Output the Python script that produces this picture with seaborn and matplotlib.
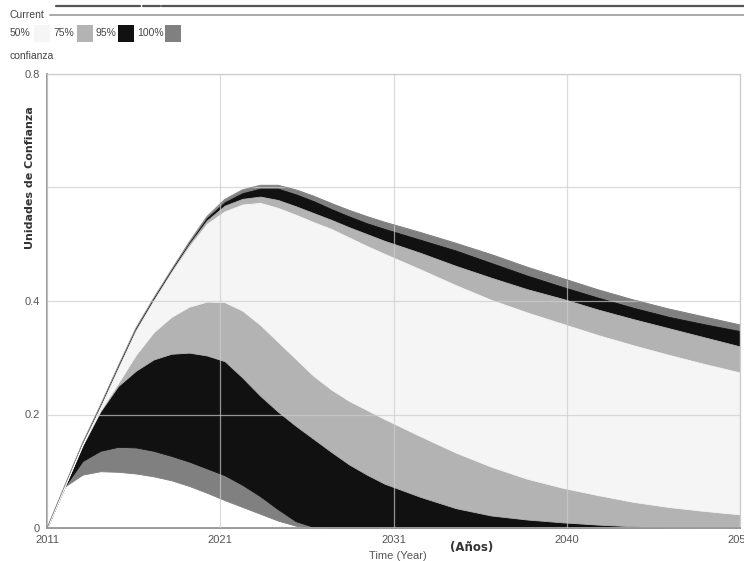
import numpy as np
import pandas as pd
import seaborn as sns
import matplotlib.pyplot as plt
from matplotlib.patches import Rectangle
from matplotlib.lines import Line2D

# datos (sensibilidad de Vensim)
years = [2011, 2012, 2013, 2014, 2015, 2016, 2017, 2018, 2019, 2020,
         2021, 2022, 2023, 2024, 2025, 2026, 2027, 2028, 2029, 2030,
         2032, 2034, 2036, 2038, 2040, 2042, 2044, 2046, 2048, 2050]

low_100 = [0, .073, .094, .100, .099, .096, .091, .084, .074, .062,
           .049, .037, .025, .013, .004, 0, 0, 0, 0, 0,
           0, 0, 0, 0, 0, 0, 0, 0, 0, 0]
low_95 = [0, .073, .118, .136, .143, .142, .136, .127, .117, .105,
          .093, .076, .056, .033, .012, .002, 0, 0, 0, 0,
          0, 0, 0, 0, 0, 0, 0, 0, 0, 0]
low_75 = [0, .073, .145, .205, .250, .277, .297, .307, .309, .304,
          .294, .265, .233, .205, .180, .157, .134, .112, .094, .078,
          .055, .035, .022, .015, .010, .006, .003, .001, 0, 0]
low_50 = [0, .074, .147, .207, .255, .305, .345, .372, .390, .399,
          .398, .383, .358, .328, .298, .268, .244, .224, .208, .192,
          .162, .133, .108, .087, .071, .058, .046, .037, .030, .024]
up_50 = [0, .074, .147, .212, .280, .347, .400, .450, .496, .536,
         .558, .570, .573, .564, .552, .539, .527, .512, .497, .483,
         .456, .428, .402, .380, .360, .340, .322, .305, .289, .274]
up_75 = [0, .074, .148, .213, .282, .349, .402, .452, .500, .542,
         .568, .580, .584, .578, .567, .555, .543, .530, .518, .506,
         .485, .462, .441, .421, .404, .385, .368, .352, .336, .320]
up_95 = [0, .075, .149, .215, .284, .351, .404, .454, .502, .546,
         .574, .590, .598, .598, .588, .576, .562, .549, .537, .527,
         .508, .489, .467, .445, .425, .406, .388, .372, .359, .347]
up_100 = [0, .075, .150, .216, .285, .352, .405, .455, .504, .549,
          .579, .596, .604, .604, .596, .585, .572, .560, .549, .539,
          .521, .502, .482, .460, .440, .420, .402, .386, .372, .358]

levels = ["50%", "75%", "95%", "100%"]
colors = {"50%": "#f5f5f5", "75%": "#b3b3b3", "95%": "#111111", "100%": "#808080"}
bands = {"100%": (low_100, up_100), "95%": (low_95, up_95),
         "75%": (low_75, up_75), "50%": (low_50, up_50)}

x_ticks = [2011, 2020.75, 2030.5, 2040.25, 2050]
x_labels = ["2011", "2021", "2031", "2040", "2050"]
y_ticks = [0, 0.2, 0.4, 0.6, 0.8]
y_labels = ["0", "0.2", "0.4", "", "0.8"]

sns.set_style("white")
plt.rcParams["font.family"] = ["DejaVu Sans"]
small = ["Liberation Sans Narrow", "Liberation Sans", "DejaVu Sans"]

df = pd.DataFrame({"year": years, "top": up_100})

fig = plt.figure(figsize=(7.44, 5.61), dpi=100)
ax = fig.add_axes([47 / 744, 33 / 561, 693 / 744, 454 / 561])

# bandas de confianza, de la mas ancha a la mas estrecha
for lev in ["100%", "95%", "75%", "50%"]:
    lo, hi = bands[lev]
    ax.fill_between(years, lo, hi, facecolor=colors[lev],
                    edgecolor=colors[lev], linewidth=0.6, zorder=2)
sns.lineplot(data=df, x="year", y="top", ax=ax, color="#808080",
             linewidth=0.6, zorder=3)

ax.set_xlim(2011, 2050)
ax.set_ylim(0, 0.8)
ax.set_xticks(x_ticks)
ax.set_xticklabels(x_labels, family=small, fontsize=8, color="#555555")
ax.set_yticks(y_ticks)
ax.set_yticklabels(y_labels, family=small, fontsize=8, color="#555555")
ax.tick_params(length=0, pad=5)
ax.set_xlabel("")
ax.set_ylabel("")
ax.grid(True, color="#cccccc", linewidth=0.9, alpha=0.7, zorder=4)
ax.set_axisbelow(False)
for side in ["left", "bottom"]:
    ax.spines[side].set_color("#999999")
    ax.spines[side].set_linewidth(1.4)
for side in ["top", "right"]:
    ax.spines[side].set_color("#cccccc")
    ax.spines[side].set_linewidth(0.9)

# textos de ejes
fig.text(30 / 744, 1 - 178 / 561, "Unidades de Confianza", rotation=90,
         ha="center", va="center", fontsize=8, fontweight="bold", color="#333333")
fig.text(472 / 744, 1 - 548 / 561, "(Años)", ha="center", va="center",
         fontsize=8.5, fontweight="bold", color="#333333")
fig.text(398 / 744, 1 - 556 / 561, "Time (Year)", ha="center", va="center",
         family=small, fontsize=8, color="#555555")

# cabecera tipo leyenda de Vensim
def fx(px):
    return px / 744

def fy(py):
    return 1 - py / 561

for x0, x1 in [(56, 140), (143, 160), (162, 744)]:
    fig.add_artist(Line2D([fx(x0), fx(x1)], [fy(6), fy(6)], color="#555555", linewidth=1.6))
fig.add_artist(Line2D([fx(50), fx(744)], [fy(15), fy(15)], color="#aaaaaa", linewidth=1.4))
fig.text(fx(10), fy(15), "Current", ha="left", va="center",
         family=small, fontsize=7.5, color="#444444")
fig.text(fx(10), fy(56), "confianza", ha="left", va="center",
         family=small, fontsize=7.5, color="#444444")

leg_text_x = [10, 53, 95, 137]
leg_box_x = [34, 77, 118, 165]
for lev, tx, bx in zip(levels, leg_text_x, leg_box_x):
    fig.text(fx(tx), fy(33), lev, ha="left", va="center",
             family=small, fontsize=7.5, color="#444444")
    fig.add_artist(Rectangle((fx(bx), fy(42)), 16 / 744, 17 / 561,
                             facecolor=colors[lev], edgecolor="none"))

fig.savefig("out.png", dpi=100)
